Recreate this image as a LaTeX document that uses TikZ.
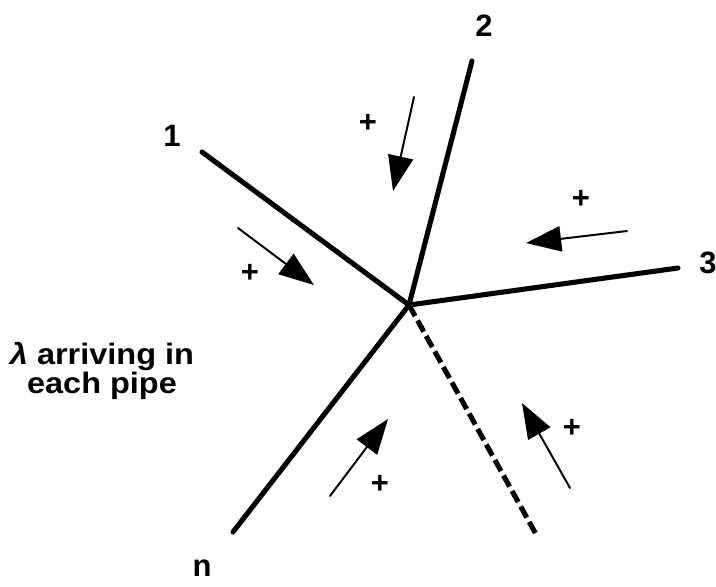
\documentclass[tikz,border=0pt]{standalone}
\usepackage{fontspec}
\setmainfont{Liberation Sans}
\usepackage{tikz}
\usetikzlibrary{arrows.meta}

\begin{document}
\begin{tikzpicture}[x=0.025cm,y=-0.025cm,line cap=round,
    pipe/.style={line width=3.6pt},
    flow/.style={line width=1.4pt,-{Triangle[length=25pt,width=18pt]}},
    lab/.style={font=\fontsize{22}{24}\selectfont\bfseries,inner sep=0pt}]
    \useasboundingbox (0,0) rectangle (716,586);
    \coordinate (0) at (409,305);
    \coordinate (1) at (202,152);
    \coordinate (2) at (472,61);
    \coordinate (3) at (678,268);
    \coordinate (n) at (233,532);
    \coordinate (d) at (537,536);

%   pipes
    \draw[pipe] (0) -- (1);
    \draw[pipe] (0) -- (2);
    \draw[pipe] (0) -- (3);
    \draw[pipe] (0) -- (n);
    \draw[pipe,line cap=butt,dash pattern=on 9pt off 3.6pt] (0) -- (d);

    \node[lab] (l1) at (172,136) {1};
    \node[lab] (l2) at (484,26) {2};
    \node[lab] (l3) at (708,263) {3};
    \node[lab] (ln) at (202,568) {n};

%   flow arrows
    \coordinate (a1) at (238,228);  \coordinate (b1) at (314,285);
    \coordinate (a2) at (414,97);   \coordinate (b2) at (393,191);
    \coordinate (a3) at (627,231);  \coordinate (b3) at (526,243);
    \coordinate (an) at (330,496);  \coordinate (bn) at (388,419);
    \coordinate (ad) at (570,488);  \coordinate (bd) at (522,403);
    \draw[flow] (a1) -- (b1);
    \draw[flow] (a2) -- (b2);
    \draw[flow] (a3) -- (b3);
    \draw[flow] (an) -- (bn);
    \draw[flow] (ad) -- (bd);

    \node[lab] (s1) at (250,273) {+};
    \node[lab] (s2) at (368,123) {+};
    \node[lab] (s3) at (581,199) {+};
    \node[lab] (sn) at (380,484) {+};
    \node[lab] (sd) at (572,428) {+};

    \node[lab,align=center,font=\fontsize{21}{20}\selectfont\bfseries] (txt) at (102,371)
        {\scalebox{1.1}[1]{{\itshape λ} arriving in}\\[0pt]\scalebox{1.1}[1]{each pipe}};
\end{tikzpicture}
\end{document}
